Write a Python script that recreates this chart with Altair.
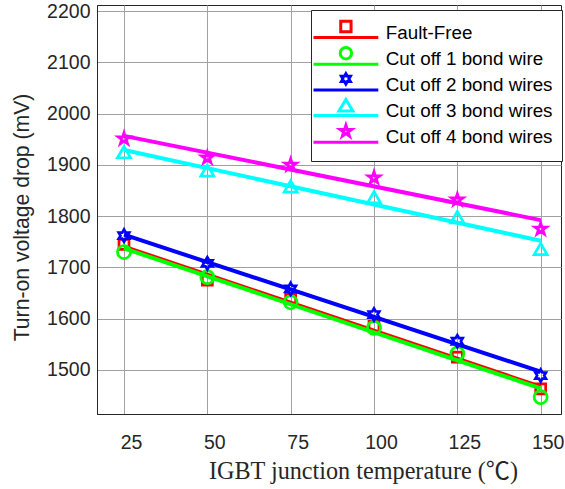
import altair as alt
import pandas as pd

# ---------------- data ----------------
temps = [25, 50, 75, 100, 125, 150]
series = ["Fault-Free", "Cut off 1 bond wire", "Cut off 2 bond wires",
          "Cut off 3 bond wires", "Cut off 4 bond wires"]
fault_free = [1745, 1675, 1639, 1585, 1525, 1463]
cut1 = [1730, 1681, 1632, 1582, 1532, 1447]
cut2 = [1762, 1708, 1658, 1608, 1556, 1489]
cut3 = [1925, 1889, 1858, 1837, 1798, 1736]
cut4 = [1951, 1914, 1900, 1875, 1832, 1775]
x_ticks = [25, 50, 75, 100, 125, 150]
y_ticks = [1500, 1600, 1700, 1800, 1900, 2000, 2100, 2200]

colors = ["#ff0000", "#00ff00", "#0000ff", "#00ffff", "#ff00ff"]

# ---------------- marker geometry (style) ----------------
HEX_PTS = [(0, -1), (0.2887, -0.5), (0.866, -0.5), (0.577, 0), (0.866, 0.5),
           (0.2887, 0.5), (0, 1), (-0.2887, 0.5), (-0.866, 0.5), (-0.577, 0),
           (-0.866, -0.5), (-0.2887, -0.5)]
STAR_PTS = [(0, -1), (0.2245, -0.309), (0.9511, -0.309), (0.3633, 0.118),
            (0.5878, 0.809), (0, 0.382), (-0.5878, 0.809), (-0.3633, 0.118),
            (-0.9511, -0.309), (-0.2245, -0.309)]
SQ_PTS = [(-1, -1), (1, -1), (1, 1), (-1, 1)]
TRI_PTS = [(0, -1), (1.1, 1), (-1.1, 1)]


def poly(pts, s=1.0, dy=0.0, sy=None):
    sy = s if sy is None else sy
    return "M" + "L".join(f"{x*s:.3f},{y*sy+dy:.3f}" for x, y in pts) + "Z"


def circ(r, dy):
    return (f"M{-r},{dy}A{r},{r},0,1,1,{r},{dy}A{r},{r},0,1,1,{-r},{dy}Z")


HEX = poly(HEX_PTS)
STAR = poly(STAR_PTS)
plot_shapes = ["square", "circle", HEX, "triangle-up", STAR]
plot_sizes = [100, 170, 150, 170, 150]
line_widths = [2.5, 4, 4, 4, 4]

# legend glyphs: unit = 12 px (symbolSize 576); marker above a line segment
LEG_LINE = "M-2.7,0.417H2.7"
legend_shapes = [
    LEG_LINE + poly(SQ_PTS, 0.43, -0.5),
    LEG_LINE + circ(0.475, -0.5),
    LEG_LINE + poly(HEX_PTS, 0.43, -0.5),
    LEG_LINE + poly(TRI_PTS, 0.525, -0.45, 0.475),
    LEG_LINE + poly(STAR_PTS, 0.5, -0.5),
]

rows = []
for s, vals in zip(series, [fault_free, cut1, cut2, cut3, cut4]):
    for t, v in zip(temps, vals):
        rows.append({"series": s, "temp": t, "voltage": v})
df = pd.DataFrame(rows)
legend_df = pd.DataFrame({"series": series})

SANS = "Liberation Sans, Arial, sans-serif"
SERIF = "Liberation Serif, Noto Sans CJK SC, serif"
INK = "#262626"

x_enc = alt.X("temp:Q",
              scale=alt.Scale(domain=[16.9, 156.1], nice=False, zero=False),
              axis=alt.Axis(values=x_ticks, format="d",
                            title="IGBT junction temperature (℃)",
                            titleFont=SERIF, titleFontSize=24.2, titleFontWeight="normal",
                            titleColor=INK, titleX=266, titleY=64,
                            titleBaseline="alphabetic", titleAlign="center",
                            labelFont=SANS, labelFontSize=19.5, labelColor=INK,
                            labelPadding=34, labelBaseline="alphabetic",
                            labelOffset=7, labelFlush=False, labelOverlap=False,
                            ticks=False, tickSize=0, domainColor=INK,
                            gridColor="#a0a0a0", gridOpacity=1))
y_enc = alt.Y("voltage:Q",
              scale=alt.Scale(domain=[1414, 2212], nice=False, zero=False),
              axis=alt.Axis(values=y_ticks, format="d",
                            title="Turn-on voltage drop (mV)",
                            titleFont=SANS, titleFontSize=21.2, titleFontWeight="normal",
                            titleColor=INK, titleX=-69, titleY=212,
                            titleBaseline="alphabetic", titleAlign="center",
                            labelFont=SANS, labelFontSize=19.5, labelColor=INK,
                            labelPadding=7, labelFlush=False, labelOverlap=False,
                            ticks=False, tickSize=0, domainColor=INK,
                            gridColor="#a0a0a0", gridOpacity=1))

color_scale = alt.Scale(domain=series, range=colors)
shape_scale = alt.Scale(domain=series, range=plot_shapes)

layers = []
for i, s in enumerate(series):
    base = alt.Chart(df).transform_filter(alt.datum.series == s)
    line = base.transform_regression("temp", "voltage", groupby=["series"]).mark_line(
        strokeWidth=line_widths[i], clip=True
    ).encode(x=x_enc, y=y_enc,
             color=alt.Color("series:N", scale=color_scale, legend=None))
    pts = base.mark_point(filled=False, strokeWidth=2.7, size=plot_sizes[i],
                          opacity=1).encode(
        x=x_enc, y=y_enc,
        color=alt.Color("series:N", scale=color_scale, legend=None),
        shape=alt.Shape("series:N", scale=shape_scale, legend=None))
    layers += [line, pts]

leg = alt.Legend(title=" ", titleOrient="bottom", titleFontSize=4, titlePadding=0,
                 orient="none", legendX=214, legendY=5, padding=9, rowPadding=-3.3,
                 symbolSize=576, symbolStrokeWidth=3, symbolOpacity=1,
                 symbolFillColor="transparent", symbolOffset=12.4, labelOffset=26.4,
                 labelFont=SANS, labelFontSize=18.8, labelColor="#000000",
                 labelLimit=400, fillColor="white", strokeColor=INK)

legend_layer = alt.Chart(legend_df).mark_point(opacity=0, filled=False).encode(
    shape=alt.Shape("series:N", scale=alt.Scale(domain=series, range=legend_shapes),
                    legend=leg),
    stroke=alt.Stroke("series:N", scale=alt.Scale(domain=series, range=colors),
                      legend=leg),
)

chart = alt.layer(*layers, legend_layer).resolve_scale(
    shape="independent", stroke="independent"
).properties(
    width=464, height=409,
    padding={"left": 97, "top": 5, "right": 4, "bottom": 75},
    autosize=alt.AutoSizeParams(type="none"),
    background="white",
).configure_view(stroke=INK, strokeWidth=1).configure_legend(strokeWidth=1)

chart.save("out.html", embed_options={"renderer": "svg", "actions": False})
